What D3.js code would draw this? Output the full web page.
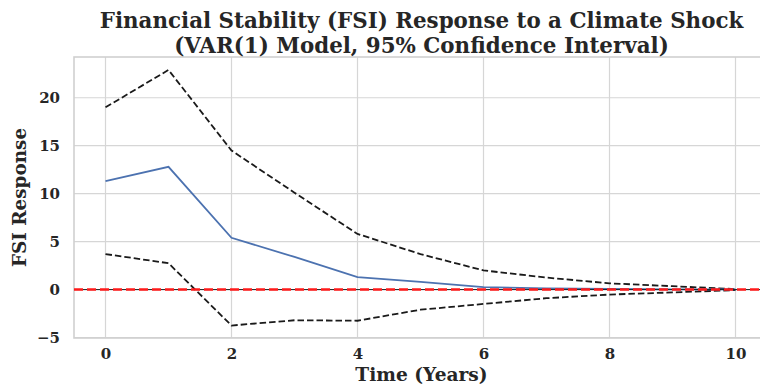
<!DOCTYPE html>
<html>
<head>
<meta charset="utf-8">
<script src="https://cdn.jsdelivr.net/npm/d3@7"></script>
<style>
  body { margin: 0; background: #fff; }
  text { font-family: "DejaVu Serif", serif; font-weight: bold; fill: #262626; }
</style>
</head>
<body>
<div id="chart"></div>
<script>
const years = [0, 1, 2, 3, 4, 5, 6, 7, 8, 9, 10];
const irfMean = [11.3, 12.8, 5.4, 3.4, 1.3, 0.8, 0.25, 0.12, 0.06, 0.03, 0.01];
const irfUpper = [19.0, 22.9, 14.5, 10.1, 5.8, 3.7, 2.0, 1.25, 0.65, 0.35, 0.05];
const irfLower = [3.7, 2.75, -3.75, -3.2, -3.25, -2.1, -1.5, -0.9, -0.52, -0.3, -0.05];
const xTicks = [0, 2, 4, 6, 8, 10];
const yTicks = [-5, 0, 5, 10, 15, 20];

const width = 760, height = 385;
const plot = { left: 74, right: 767, top: 57, bottom: 338 };

const svg = d3.select('#chart')
    .append('svg')
    .attr('width', width)
    .attr('height', height);

const x = d3.scaleLinear().domain([-0.5, 10.5]).range([plot.left, plot.right]);
const y = d3.scaleLinear().domain([-5.05, 24.25]).range([plot.bottom, plot.top]);

// grid
svg.append('g')
    .selectAll('line')
    .data(xTicks)
    .enter()
    .append('line')
    .attr('x1', d => x(d)).attr('x2', d => x(d))
    .attr('y1', plot.top).attr('y2', plot.bottom)
    .attr('stroke', '#d6d6d6')
    .attr('stroke-width', 1.2);

svg.append('g')
    .selectAll('line')
    .data(yTicks)
    .enter()
    .append('line')
    .attr('x1', plot.left).attr('x2', plot.right)
    .attr('y1', d => y(d)).attr('y2', d => y(d))
    .attr('stroke', '#d6d6d6')
    .attr('stroke-width', 1.2);

// spines
svg.append('rect')
    .attr('x', plot.left).attr('y', plot.top)
    .attr('width', plot.right - plot.left).attr('height', plot.bottom - plot.top)
    .attr('fill', 'none')
    .attr('stroke', '#d0d0d0')
    .attr('stroke-width', 1.6);

// axes
const xAxis = d3.axisBottom(x).tickValues(xTicks).tickSize(0).tickPadding(10);
const yAxis = d3.axisLeft(y).tickValues(yTicks).tickSize(0).tickPadding(14)
    .tickFormat(d => d < 0 ? '\u2212' + Math.abs(d) : d);

svg.append('g')
    .attr('transform', `translate(0,${plot.bottom})`)
    .call(xAxis)
    .call(g => g.select('.domain').remove())
    .selectAll('text')
    .attr('font-size', 15)
    .attr('font-family', '"DejaVu Serif", serif')
    .attr('fill', '#262626');

svg.append('g')
    .attr('transform', `translate(${plot.left},0)`)
    .call(yAxis)
    .call(g => g.select('.domain').remove())
    .selectAll('text')
    .attr('font-size', 15)
    .attr('font-family', '"DejaVu Serif", serif')
    .attr('fill', '#262626');

// lines
const line = d3.line()
    .x((d, i) => x(years[i]))
    .y(d => y(d));

svg.append('path')
    .datum(irfUpper)
    .attr('fill', 'none')
    .attr('stroke', '#1a1a1a')
    .attr('stroke-width', 1.8)
    .attr('stroke-dasharray', '6.5,3')
    .attr('d', line);

svg.append('path')
    .datum(irfLower)
    .attr('fill', 'none')
    .attr('stroke', '#1a1a1a')
    .attr('stroke-width', 1.8)
    .attr('stroke-dasharray', '6.5,3')
    .attr('d', line);

svg.append('path')
    .datum(irfMean)
    .attr('fill', 'none')
    .attr('stroke', '#4c72b0')
    .attr('stroke-width', 1.8)
    .attr('d', line);

// zero lines
svg.append('line')
    .attr('x1', plot.left).attr('x2', plot.right)
    .attr('y1', y(0)).attr('y2', y(0))
    .attr('stroke', '#222')
    .attr('stroke-width', 1);

svg.append('line')
    .attr('x1', plot.left).attr('x2', plot.right)
    .attr('y1', y(0)).attr('y2', y(0))
    .attr('stroke', '#ff1a1a')
    .attr('stroke-width', 2.6)
    .attr('stroke-dasharray', '9,4');

// labels
const cx = (plot.left + plot.right) / 2 + 1;
svg.append('text')
    .attr('x', cx).attr('y', 28)
    .attr('text-anchor', 'middle')
    .attr('font-size', 21.4)
    .text('Financial Stability (FSI) Response to a Climate Shock');

svg.append('text')
    .attr('x', cx).attr('y', 52.5)
    .attr('text-anchor', 'middle')
    .attr('font-size', 21.4)
    .text('(VAR(1) Model, 95% Confidence Interval)');

svg.append('text')
    .attr('x', cx).attr('y', 380.5)
    .attr('text-anchor', 'middle')
    .attr('font-size', 18.6)
    .text('Time (Years)');

svg.append('text')
    .attr('transform', `translate(26,${(plot.top + plot.bottom) / 2}) rotate(-90)`)
    .attr('text-anchor', 'middle')
    .attr('font-size', 18.4)
    .text('FSI Response');
</script>
</body>
</html>
